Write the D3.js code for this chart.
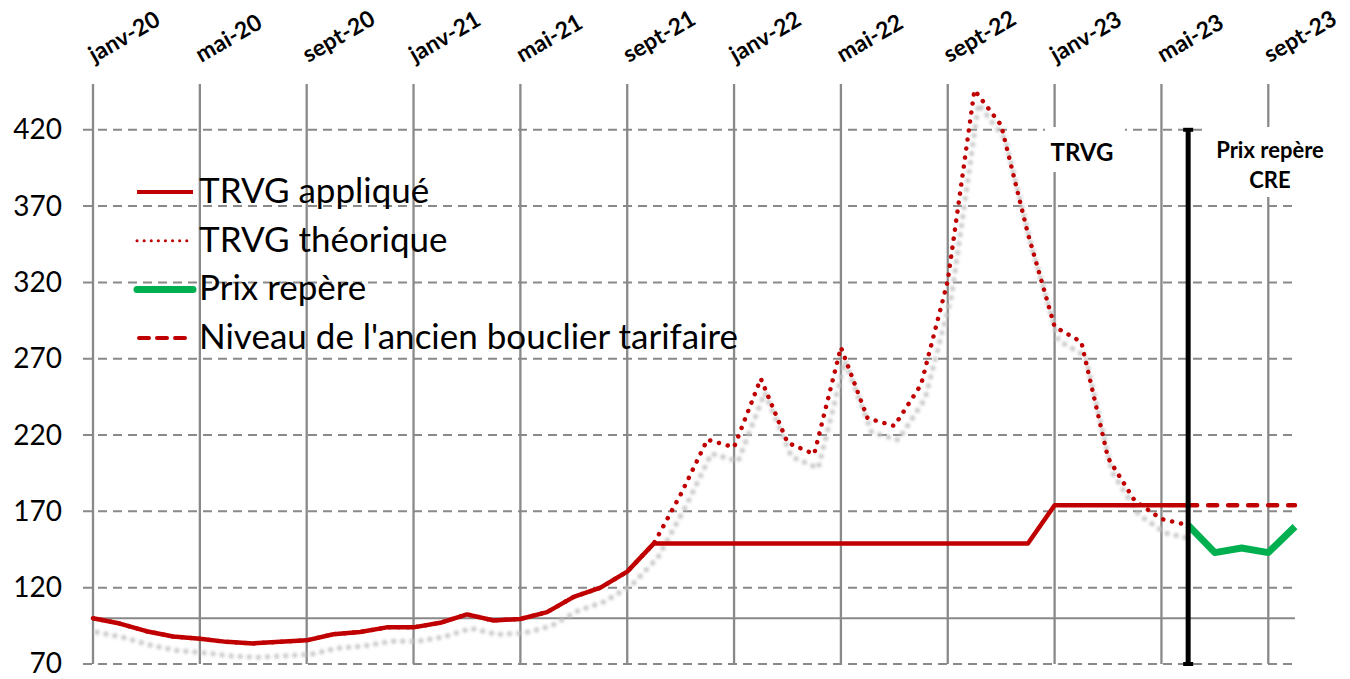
<!DOCTYPE html>
<html>
<head>
<meta charset="utf-8">
<script src="https://cdn.jsdelivr.net/npm/d3@7"></script>
<style>
  body { margin: 0; background: #fff; }
  text { font-family: Lato, "Open Sans", sans-serif; }
</style>
</head>
<body>
<div id="chart"></div>
<script>
/***********************************************************************/
//data (monthly, index 0 = janv-20)
var xTickLabels = ["janv-20", "mai-20", "sept-20", "janv-21", "mai-21", "sept-21",
  "janv-22", "mai-22", "sept-22", "janv-23", "mai-23", "sept-23"];
var yTicks = [70, 120, 170, 220, 270, 320, 370, 420];

var trvgApplique = [100, 96.5, 91.5, 88, 86.5, 84.5, 83.5, 84.5, 85.5, 89.5, 91, 94,
  94, 97, 102.5, 98.5, 99.5, 104, 114, 120, 130.5, 149,
  149, 149, 149, 149, 149, 149, 149, 149, 149, 149, 149, 149, 149, 149,
  174, 174, 174, 174, 174, 174];

var trvgTheorique = [100, 96.5, 91.5, 88, 86.5, 84.5, 83.5, 84.5, 85.5, 89.5, 91, 94,
  94, 97, 102.5, 98.5, 99.5, 104, 114, 120, 130.5, 149,
  181, 217, 212, 257, 215, 207.5, 277.5, 231, 226, 253, 321, 446, 423, 352,
  291, 281, 205, 177, 165, 161];

//prix repère and old tariff shield start at juin-23 (index 41)
var prixRepereStart = 41;
var prixRepere = [161, 143, 146, 143, 160];
var bouclier = [174, 174, 174, 174, 174];

var legendLabels = ["TRVG appliqué", "TRVG théorique", "Prix repère",
  "Niveau de l'ancien bouclier tarifaire"];

/***********************************************************************/
var svgWidth = 1350;
var svgHeight = 679;
var red = "#c00000";
var green = "#00b050";
var grey = "#898989";

var svg = d3.select("#chart")
  .append("svg")
  .attr("width", svgWidth)
  .attr("height", svgHeight);

//month index -> x, value -> y
var x = d3.scaleLinear().domain([0, 45]).range([93, 1295]);
var y = d3.scaleLinear().domain([70, 450]).range([664, 84]);

function toPoints(values, start) {
  return values.map((v, k) => ({ i: start + k, v: v }));
}

var line = d3.line()
  .x(d => x(d.i))
  .y(d => y(d.v));

//blur for the shadow under the theoretical line
var defs = svg.append("defs");
defs.append("filter")
  .attr("id", "soft")
  .attr("x", "-5%").attr("y", "-5%")
  .attr("width", "110%").attr("height", "110%")
  .append("feGaussianBlur")
  .attr("stdDeviation", 1.4);

/***********************************************************************/
//gridlines
var gridGroup = svg.append("g");
var tickIndex = xTickLabels.map((d, k) => k * 4);

gridGroup.selectAll(".hgrid")
  .data(yTicks)
  .enter()
  .append("line")
  .attr("x1", x(0) - 10)
  .attr("x2", x(45))
  .attr("y1", d => y(d))
  .attr("y2", d => y(d))
  .attr("stroke", grey)
  .attr("stroke-width", 2)
  .attr("stroke-dasharray", "9,6");

gridGroup.append("line")
  .attr("x1", x(0))
  .attr("x2", x(45))
  .attr("y1", y(100))
  .attr("y2", y(100))
  .attr("stroke", grey)
  .attr("stroke-width", 2);

gridGroup.selectAll(".vgrid")
  .data(tickIndex)
  .enter()
  .append("line")
  .attr("x1", d => x(d))
  .attr("x2", d => x(d))
  .attr("y1", y(450))
  .attr("y2", y(70))
  .attr("stroke", grey)
  .attr("stroke-width", 2.3);

/***********************************************************************/
//axes (labels only)
var xAxis = d3.axisTop(x)
  .tickValues(tickIndex)
  .tickFormat((d, k) => xTickLabels[k])
  .tickSize(0);

svg.append("g")
  .attr("transform", "translate(1, 63)")
  .call(xAxis)
  .call(g => g.select(".domain").remove())
  .selectAll("text")
  .attr("font-family", "Lato, sans-serif")
  .attr("font-size", 23)
  .attr("font-weight", "bold")
  .attr("fill", "#000")
  .attr("text-anchor", "start")
  .attr("dy", 0)
  .attr("y", 0)
  .attr("transform", "rotate(-30)");

var yAxis = d3.axisLeft(y)
  .tickValues(yTicks)
  .tickSize(0)
  .tickPadding(0);

svg.append("g")
  .attr("transform", "translate(62, 0)")
  .call(yAxis)
  .call(g => g.select(".domain").remove())
  .selectAll("text")
  .attr("font-family", "Lato, sans-serif")
  .attr("font-size", 28)
  .attr("fill", "#000");

/***********************************************************************/
//series
var theo = toPoints(trvgTheorique, 0);

svg.append("path")
  .datum(theo)
  .attr("d", line)
  .attr("transform", "translate(4, 14)")
  .attr("fill", "none")
  .attr("stroke", "#c4c4c4")
  .attr("stroke-width", 5)
  .attr("stroke-linecap", "round")
  .attr("stroke-dasharray", "0.1,9")
  .attr("filter", "url(#soft)");

svg.append("path")
  .datum(theo)
  .attr("d", line)
  .attr("fill", "none")
  .attr("stroke", red)
  .attr("stroke-width", 4.5)
  .attr("stroke-linecap", "round")
  .attr("stroke-dasharray", "0.1,9");

svg.append("path")
  .datum(toPoints(trvgApplique, 0))
  .attr("d", line)
  .attr("fill", "none")
  .attr("stroke", red)
  .attr("stroke-width", 4.5)
  .attr("stroke-linejoin", "round");

svg.append("path")
  .datum(toPoints(bouclier, prixRepereStart))
  .attr("d", line)
  .attr("fill", "none")
  .attr("stroke", red)
  .attr("stroke-width", 4.5)
  .attr("stroke-linecap", "round")
  .attr("stroke-dasharray", "9,11");

svg.append("path")
  .datum(toPoints(prixRepere, prixRepereStart))
  .attr("d", line)
  .attr("fill", "none")
  .attr("stroke", green)
  .attr("stroke-width", 7)
  .attr("stroke-linejoin", "round");

/***********************************************************************/
//separator between TRVG and prix repère
var sepX = x(prixRepereStart);
svg.append("line")
  .attr("x1", sepX).attr("x2", sepX)
  .attr("y1", y(420)).attr("y2", y(70))
  .attr("stroke", "#000")
  .attr("stroke-width", 5);
svg.selectAll(".cap")
  .data([420, 70])
  .enter()
  .append("line")
  .attr("x1", sepX - 5).attr("x2", sepX + 5)
  .attr("y1", d => y(d)).attr("y2", d => y(d))
  .attr("stroke", "#000")
  .attr("stroke-width", 4);

//text boxes
svg.append("rect")
  .attr("x", 1045).attr("y", 127)
  .attr("width", 80).attr("height", 45)
  .attr("fill", "#fff");
svg.append("text")
  .attr("x", 1082).attr("y", 161)
  .attr("text-anchor", "middle")
  .attr("font-size", 24)
  .attr("font-weight", "bold")
  .text("TRVG");

svg.append("rect")
  .attr("x", 1202).attr("y", 127)
  .attr("width", 148).attr("height", 70)
  .attr("fill", "#fff");
svg.selectAll(".cre")
  .data(["Prix repère", "CRE"])
  .enter()
  .append("text")
  .attr("x", 1270)
  .attr("y", (d, k) => 158 + k * 30)
  .attr("text-anchor", "middle")
  .attr("font-size", 22)
  .attr("font-weight", "bold")
  .text(d => d);

/***********************************************************************/
//legend
var legendStyles = [
  { color: red, width: 4, dash: null, cap: "butt" },
  { color: red, width: 3, dash: "0.1,7", cap: "round" },
  { color: green, width: 7, dash: null, cap: "round" },
  { color: red, width: 4, dash: "10,8", cap: "round" }
];

var legend = svg.append("g");
var legendItems = legend.selectAll("g")
  .data(legendLabels)
  .enter()
  .append("g")
  .attr("transform", (d, k) => `translate(0, ${192 + k * 48.7})`);

legendItems.append("line")
  .attr("x1", (d, k) => k == 3 ? 139 : 137)
  .attr("x2", 193)
  .attr("stroke", (d, k) => legendStyles[k].color)
  .attr("stroke-width", (d, k) => legendStyles[k].width)
  .attr("stroke-linecap", (d, k) => legendStyles[k].cap)
  .attr("stroke-dasharray", (d, k) => legendStyles[k].dash);

legendItems.append("text")
  .attr("x", 199)
  .attr("y", 11)
  .attr("font-size", 35)
  .attr("fill", "#000")
  .text(d => d);
</script>
</body>
</html>
